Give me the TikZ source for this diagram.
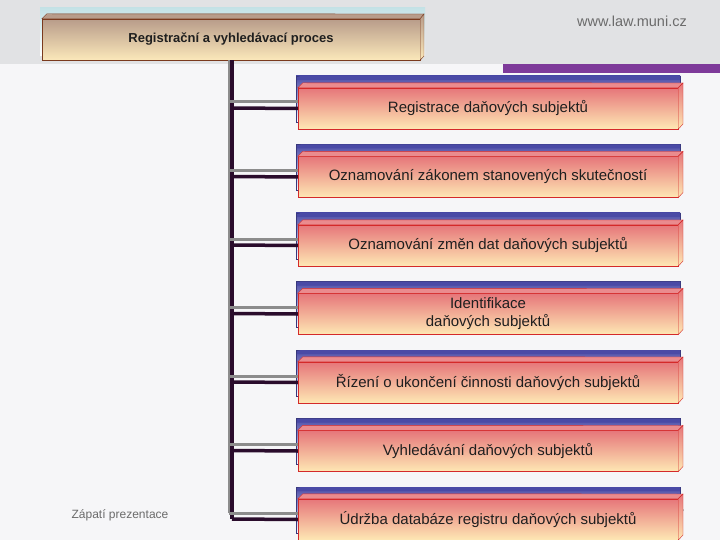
\documentclass[tikz,border=0pt]{standalone}
\usepackage{fontspec}
\setmainfont{Liberation Sans}
\usetikzlibrary{arrows.meta,calc,positioning}
\definecolor{pozadi}{HTML}{F6F6F8}
\definecolor{hlavicka}{HTML}{E1E2E4}
\definecolor{fialova}{HTML}{7E3A9A}
\definecolor{kmen}{HTML}{2A0C2C}
\definecolor{seda}{HTML}{8C8C8C}
\definecolor{cervena}{HTML}{D42A2A}
\definecolor{ruzova}{HTML}{E6767A}
\definecolor{krem}{HTML}{FEE8B4}
\definecolor{modra}{HTML}{4A4AA6}
\definecolor{hneda}{HTML}{7A3A1E}
\definecolor{bezova}{HTML}{B89C8A}
\definecolor{svetlekrem}{HTML}{FBE8BA}
\definecolor{tyrkys}{HTML}{C4E2E6}
\tikzset {
  >=Stealth,
  every node/.style={font=\fontsize{15}{18}\selectfont, text=black!88},
  polozka/.style={draw=cervena, top color=ruzova, bottom color=krem,
    minimum width=380pt, minimum height=41pt, inner sep=0pt, align=center},
  titulek/.style={draw=hneda, top color=bezova, bottom color=svetlekrem,
    minimum width=378pt, minimum height=41pt, inner sep=0pt,
    font=\fontsize{13}{15}\selectfont\bfseries},
  sedacara/.style={seda, line width=3pt},
  kmencara/.style={kmen, line width=3.5pt},
}

\begin{document}
\begin{tikzpicture}[x=1pt,y=-1pt]
  \useasboundingbox (0,0) rectangle (720,540);
  % pozadi snimku
  \fill[pozadi] (0,0) rectangle (720,540);
  \fill[hlavicka] (0,0) rectangle (720,64);
  \fill[fialova] (503,64) rectangle (720,73);
  \node[font=\fontsize{14.5}{17}\selectfont, text=black!58] (web) at (632,21) {www.law.muni.cz};
  \node[font=\fontsize{12}{14}\selectfont, text=black!58] (paticka) at (120,515) {Zápatí prezentace};
  \node[font=\fontsize{8}{10}\selectfont, text=black!55] (cislo) at (682,513) {7};
  % titulek
  \fill[top color=tyrkys, bottom color=white] (40,8) rectangle (425,56);
  \node[titulek] (titul) at (231,39.5) {Registrační a vyhledávací proces};
  \draw[hneda, fill=bezova] (titul.north west) -- ++(5,-5) -- (424,14) -- (titul.north east) -- cycle;
  \draw[hneda, top color=bezova, bottom color=svetlekrem] (titul.north east) -- (424,14) -- (424,56) -- (titul.south east) -- cycle;
  % polozky
  \foreach \i/\txt [evaluate=\i as \y using 108+68.5*(\i-1)] in {
      1/{Registrace daňových subjektů},
      2/{Oznamování zákonem stanovených skutečností},
      3/{Oznamování změn dat daňových subjektů},
      4/{Identifikace\\daňových subjektů},
      5/{Řízení o ukončení činnosti daňových subjektů},
      6/{Vyhledávání daňových subjektů},
      7/{Údržba databáze registru daňových subjektů}} {
    \draw[modra!75!black, top color=modra, bottom color=white] (296,{\y-32}) rectangle (680,{\y+14});
    \fill[modra] (297,{\y-31}) -- (301,{\y-32}) -- (680,{\y-32}) -- (680,{\y-28}) -- (297,{\y-28}) -- cycle;
    \node[polozka] (b\i) at (488,{\y+0.5}) {\txt};
    \draw[cervena, fill=ruzova!85!white] (b\i.north west) -- ++(5,-5) -- (683,{\y-25}) -- (b\i.north east) -- cycle;
    \draw[cervena, top color=ruzova, bottom color=krem] (b\i.north east) -- (683,{\y-25}) -- (683,{\y+16}) -- (b\i.south east) -- cycle;
    \coordinate (g\i) at (229,{\y-6});
    \coordinate (k\i) at (232,\y);
  }
  % spojnice
  \draw[sedacara] (titul.south -| g1) -- (g7);
  \draw[kmencara] (titul.south -| k1) -- (k7);
  \foreach \i in {1,...,7} {
    \draw[sedacara] (g\i) -- (b\i.west |- g\i);
    \draw[kmencara] (k\i) -- (b\i.west);
  }
\end{tikzpicture}
\end{document}
